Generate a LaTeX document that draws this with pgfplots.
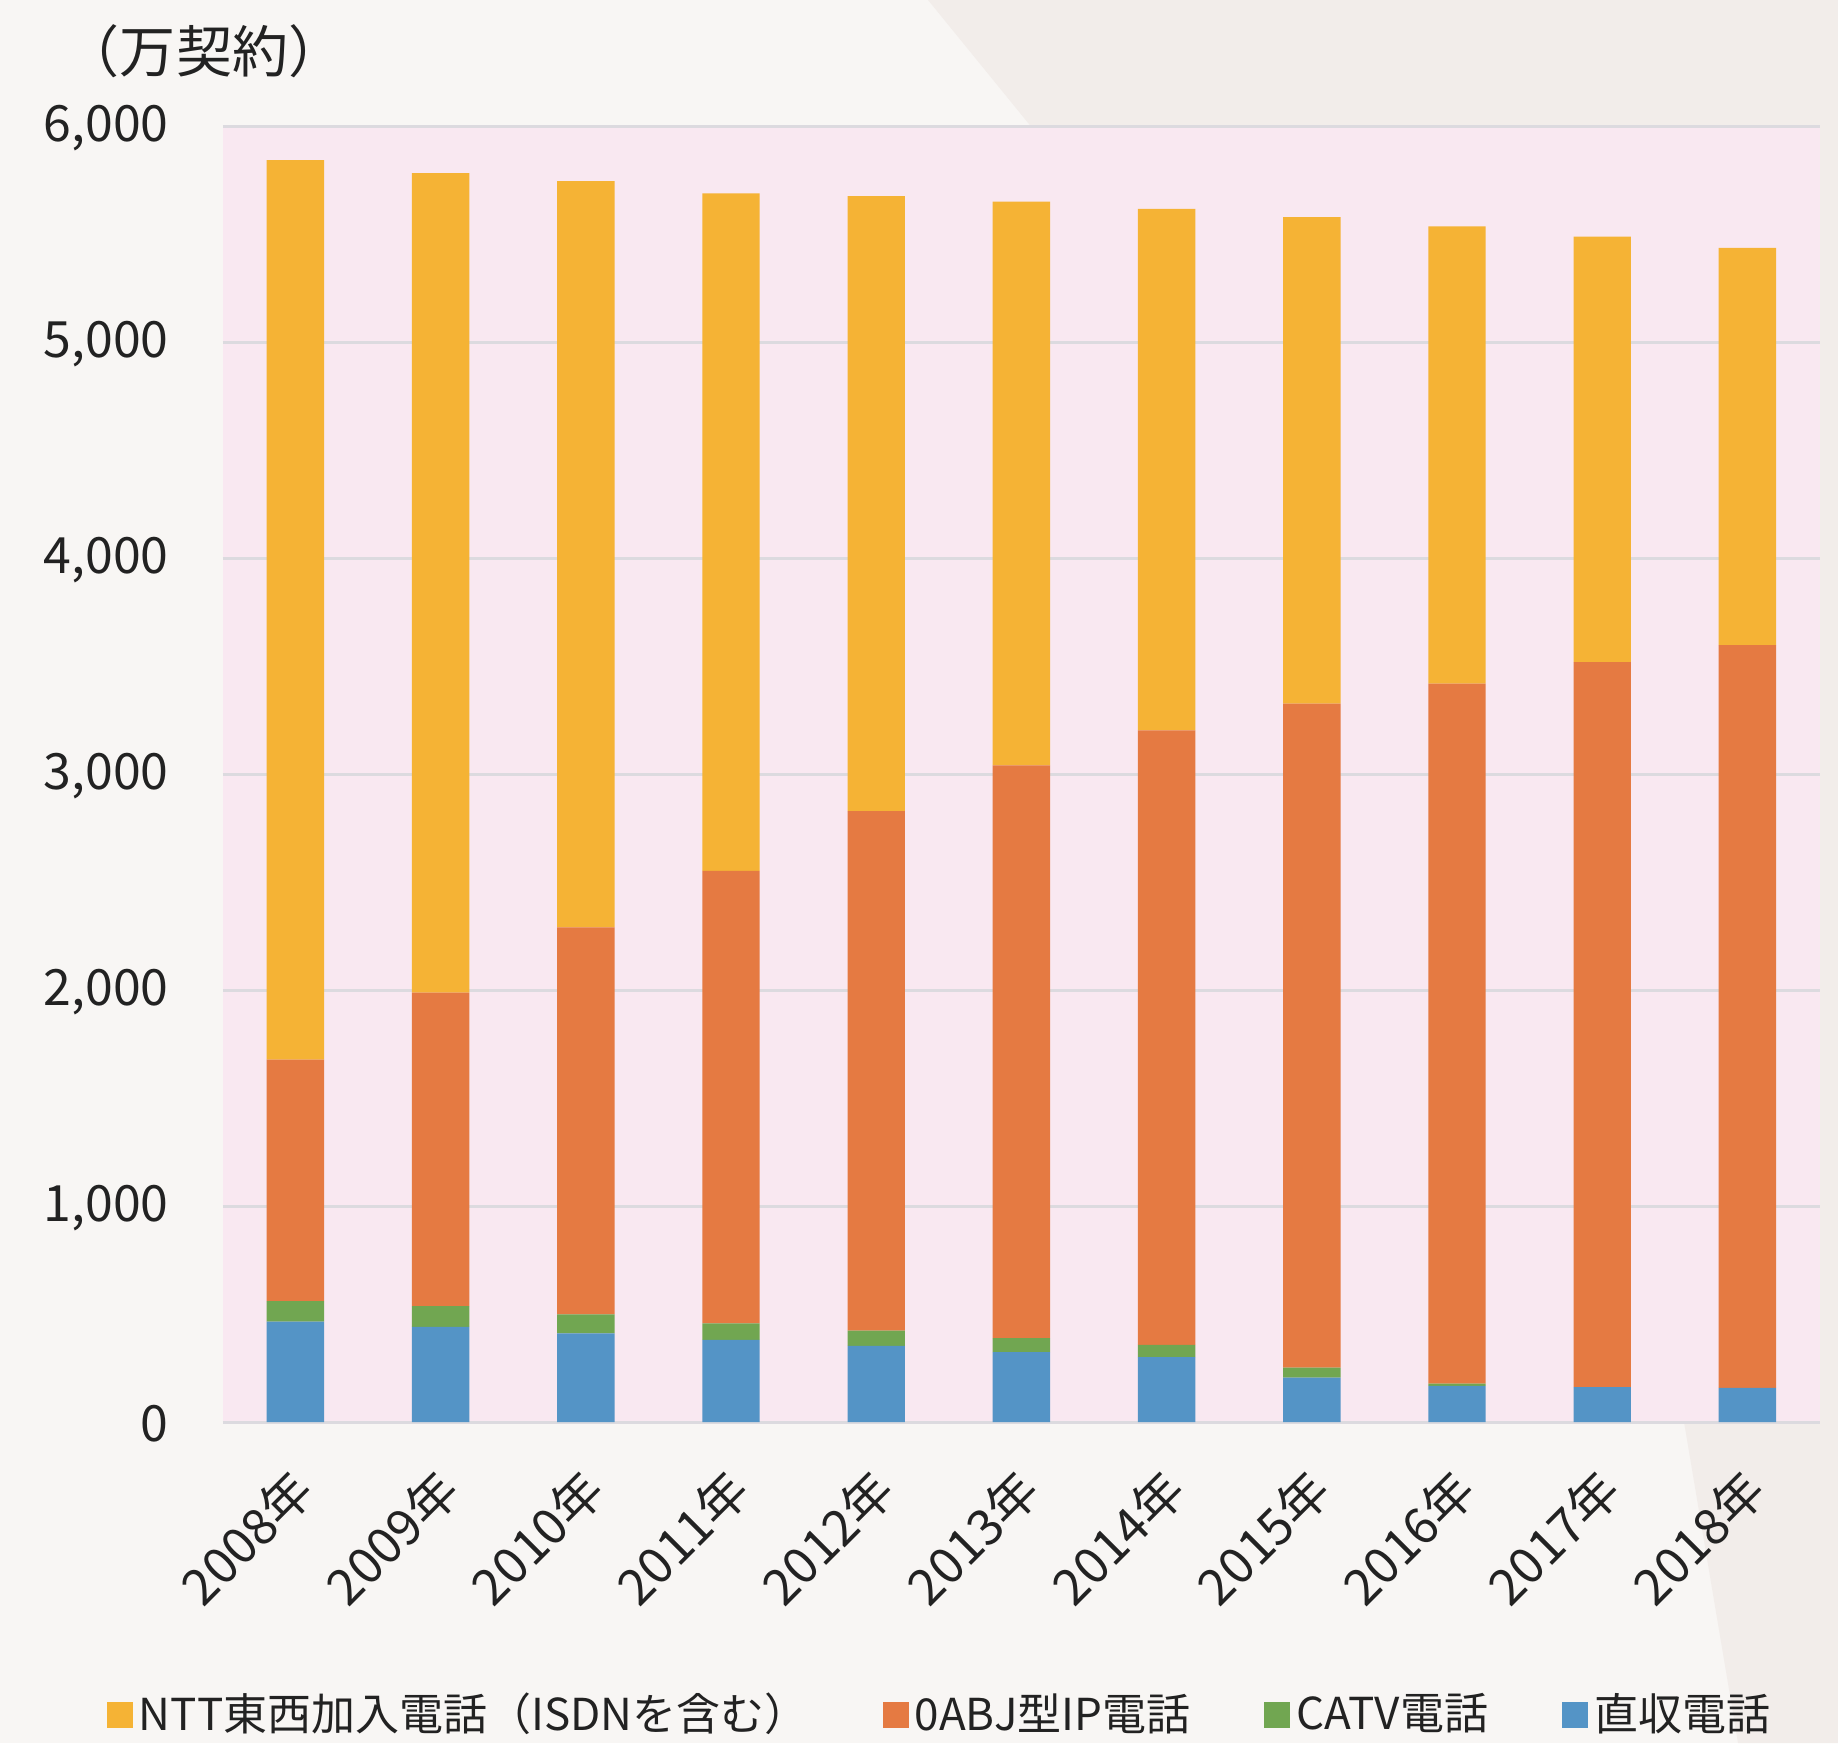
\documentclass[border=0pt]{standalone}
\usepackage{pgfplots}
\usepackage{pgfplotstable}
\usepackage{fontspec}
\pgfplotsset{compat=1.18}
\setmainfont{Noto Sans CJK JP}
\definecolor{cYellow}{HTML}{F5B335}
\definecolor{cOrange}{HTML}{E57A42}
\definecolor{cGreen}{HTML}{71A651}
\definecolor{cBlue}{HTML}{5494C6}
\definecolor{plotbg}{HTML}{F9E8F1}
\definecolor{bgA}{HTML}{F8F6F4}
\definecolor{bgB}{HTML}{F2EDEA}
\definecolor{gridgray}{HTML}{DCDADF}
\definecolor{txt}{HTML}{222222}
\pgfplotstableread{
x blue green orange yellow
0 465 95 1118 4166
1 440 97 1451 3796
2 411 88 1792 3455
3 380 77 2095 3138
4 352 71 2406 2848
5 324 64 2653 2611
6 301 56 2846 2415
7 206 46 3075 2253
8 167 11 3242 2117
9 161 0 3358 1971
10 158 0 3440 1839
}\datatable
\begin{document}
\begin{tikzpicture}
\fill[bgA] (-55.7pt,-80.25pt) rectangle (403.8pt,355.5pt);
\fill[bgB] (176.3pt,355.5pt) -- (403.8pt,355.5pt) -- (403.8pt,-80.25pt) -- (378.8pt,-80.25pt) -- (365.3pt,0pt) -- (319.3pt,180.5pt) -- (202.1pt,323.8pt) -- cycle;
\begin{axis}[
  scale only axis,
  width=399.3pt, height=323.9pt,
  ybar stacked,
  bar width=14.35pt,
  xmin=-0.5, xmax=10.5,
  ymin=0, ymax=6000,
  ytick={0,1000,2000,3000,4000,5000,6000},
  xtick={0,1,2,3,4,5,6,7,8,9,10},
  xticklabels={2008年,2009年,2010年,2011年,2012年,2013年,2014年,2015年,2016年,2017年,2018年},
  major tick length=0pt,
  axis line style={draw=none},
  ymajorgrids,
  grid style={color=gridgray, line width=0.75pt},
  axis background/.style={fill=plotbg},
  /pgf/number format/assume math mode=true,
  /pgf/number format/1000 sep={,},
  scaled y ticks=false,
  tick label style={font=\fontsize{12.5}{14}\selectfont, text=txt},
  yticklabel style={xshift=-10pt, yshift=-0.5pt},
  xticklabel style={xshift=-2pt, yshift=-5.6pt, rotate=45, anchor=north east},
  reverse legend,
  legend columns=4,
  legend style={draw=none, fill=none, inner sep=0pt, at={(0.45,-0.226)}, anchor=center,
    font=\fontsize{11}{12}\selectfont, text=txt,
    /tikz/every even column/.append style={column sep=17pt},
    nodes={inner sep=1.5pt}},
  legend image code/.code={\fill[#1, draw=none] (0pt,-3.25pt) rectangle (6.5pt,3.25pt);},
]
\addplot[fill=cBlue, draw=none] table[x=x, y=blue] {\datatable};
\addlegendentry{直収電話}
\addplot[fill=cGreen, draw=none] table[x=x, y=green] {\datatable};
\addlegendentry{CATV電話}
\addplot[fill=cOrange, draw=none] table[x=x, y=orange] {\datatable};
\addlegendentry{0ABJ型IP電話}
\addplot[fill=cYellow, draw=none] table[x=x, y=yellow] {\datatable};
\addlegendentry{NTT東西加入電話（ISDNを含む）}
\end{axis}
\node[font=\fontsize{14}{15}\selectfont, text=txt, inner sep=1pt] at (-4.7pt,342.6pt) {（万契約）};
\end{tikzpicture}
\end{document}
